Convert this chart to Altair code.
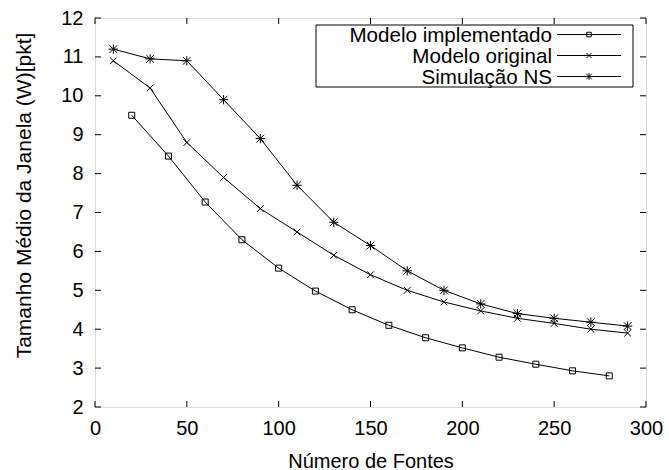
import altair as alt
import pandas as pd

# Number of sources (x) and mean window size (y) for each series
x_impl = [20, 40, 60, 80, 100, 120, 140, 160, 180, 200, 220, 240, 260, 280]
y_impl = [9.5, 8.45, 7.27, 6.3, 5.57, 4.98, 4.5, 4.1, 3.78, 3.52, 3.28, 3.1, 2.93, 2.8]

x_orig = [10, 30, 50, 70, 90, 110, 130, 150, 170, 190, 210, 230, 250, 270, 290]
y_orig = [10.9, 10.2, 8.8, 7.9, 7.1, 6.5, 5.9, 5.4, 5.0, 4.7, 4.47, 4.28, 4.15, 4.0, 3.9]

x_ns = [10, 30, 50, 70, 90, 110, 130, 150, 170, 190, 210, 230, 250, 270, 290]
y_ns = [11.2, 10.95, 10.9, 9.9, 8.9, 7.7, 6.75, 6.15, 5.5, 5.0, 4.65, 4.4, 4.28, 4.18, 4.08]

series_names = ["Modelo implementado", "Modelo original", "Simulação NS"]

x_ticks = [0, 50, 100, 150, 200, 250, 300]
y_ticks = [2, 3, 4, 5, 6, 7, 8, 9, 10, 11, 12]

W, H = 551, 389
FONT = "Liberation Sans"
FS = 20

X_SHAPE = "M-1,-1L1,1M-1,1L1,-1"
STAR_SHAPE = "M-1,-1L1,1M-1,1L1,-1M0,-1.2L0,1.2M-1.2,0L1.2,0"
shapes = ["square", X_SHAPE, STAR_SHAPE]
sizes = [36, 45, 60]

xs = alt.Scale(domain=[0, 300], nice=False, zero=False)
ys = alt.Scale(domain=[2, 12], nice=False, zero=False)

x_axis = alt.Axis(
    values=x_ticks, title="Número de Fontes", grid=False, domain=False, ticks=False,
    labelFlush=False, labelOverlap=False,
    labelFont=FONT, labelFontSize=FS, labelColor="black", labelPadding=11,
    titleFont=FONT, titleFontSize=FS, titleFontWeight="normal", titleColor="black",
    titlePadding=13)
y_axis = alt.Axis(
    values=y_ticks, title="Tamanho Médio da Janela (W)[pkt]", grid=False, domain=False,
    ticks=False, labelFlush=False, labelOverlap=False,
    labelFont=FONT, labelFontSize=FS, labelColor="black", labelPadding=12,
    titleFont=FONT, titleFontSize=21, titleFontWeight="normal", titleColor="black",
    titlePadding=26, titleY=177)

x_enc = alt.X("x:Q", scale=xs, axis=x_axis)
y_enc = alt.Y("y:Q", scale=ys, axis=y_axis)

layers = []
for (xv, yv, shp, sz) in zip([x_impl, x_orig, x_ns], [y_impl, y_orig, y_ns], shapes, sizes):
    df = pd.DataFrame({"x": xv, "y": yv})
    base = alt.Chart(df)
    layers.append(base.mark_line(color="black", strokeWidth=1).encode(x=x_enc, y=y_enc))
    layers.append(base.mark_point(shape=shp, size=sz, filled=False, color="black",
                                  strokeWidth=1, opacity=1).encode(x=x_enc, y=y_enc))

# Inward ticks on all four sides
TL = 6
xt = alt.Chart(pd.DataFrame({"x": x_ticks}))
layers.append(xt.mark_rule(color="black", strokeWidth=1).encode(
    x=x_enc, y=alt.value(H), y2=alt.value(H - TL)))
layers.append(xt.mark_rule(color="black", strokeWidth=1).encode(
    x=x_enc, y=alt.value(0), y2=alt.value(TL)))
yt = alt.Chart(pd.DataFrame({"y": y_ticks}))
layers.append(yt.mark_rule(color="black", strokeWidth=1).encode(
    y=y_enc, x=alt.value(0), x2=alt.value(TL)))
layers.append(yt.mark_rule(color="black", strokeWidth=1).encode(
    y=y_enc, x=alt.value(W), x2=alt.value(W - TL)))

# Legend box with labels on the left and sample line + marker on the right
box_l, box_r, box_t, box_b = 221, 538, 7, 69
one = alt.Chart(pd.DataFrame({"k": [0]}))
layers.append(one.mark_rect(fill="white", stroke="black", strokeWidth=1).encode(
    x=alt.value(box_l), x2=alt.value(box_r), y=alt.value(box_t), y2=alt.value(box_b)))
row_y = [16.5, 37.5, 58.5]
leg_sizes = [20, 25, 30]
for name, ry, shp, sz in zip(series_names, row_y, shapes, leg_sizes):
    c = alt.Chart(pd.DataFrame({"label": [name]}))
    layers.append(c.mark_text(align="right", baseline="middle", font=FONT, fontSize=20.6,
                              color="black", dy=1).encode(
        x=alt.value(457), y=alt.value(ry), text="label:N"))
    layers.append(c.mark_rule(color="black", strokeWidth=1).encode(
        x=alt.value(462), x2=alt.value(526), y=alt.value(ry)))
    layers.append(c.mark_point(shape=shp, size=sz, filled=False, color="black",
                               strokeWidth=1, opacity=1).encode(
        x=alt.value(494), y=alt.value(ry)))

chart = alt.layer(*layers).properties(
    width=W, height=H,
    autosize=alt.AutoSizeParams(type="none"),
    padding={"left": 95, "top": 18, "right": 23, "bottom": 63},
).configure_view(stroke="black", strokeWidth=1).configure(background="white")

chart.save("out.html", embed_options={"renderer": "svg", "actions": False})
